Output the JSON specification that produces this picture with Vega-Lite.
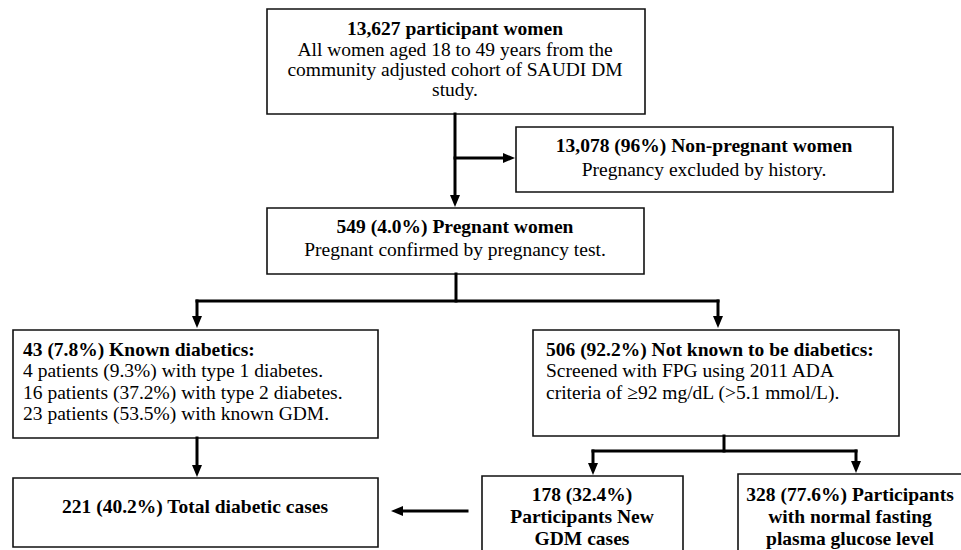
{
  "$schema": "https://vega.github.io/schema/vega-lite/v6.json",
  "width": 961,
  "height": 550,
  "padding": 0,
  "autosize": {"type": "none"},
  "background": "white",
  "config": {"view": {"stroke": null}},
  "datasets": {
    "boxes": [
      {"box": "participants", "x1": 267, "x2": 645, "y1": 9, "y2": 114},
      {"box": "non-pregnant", "x1": 516, "x2": 893, "y1": 127, "y2": 192},
      {"box": "pregnant", "x1": 267, "x2": 644, "y1": 208, "y2": 274},
      {"box": "known", "x1": 13, "x2": 378, "y1": 330, "y2": 438},
      {"box": "not known", "x1": 533, "x2": 899, "y1": 330, "y2": 436},
      {"box": "total", "x1": 13, "x2": 378, "y1": 478, "y2": 547},
      {"box": "new GDM", "x1": 482, "x2": 683, "y1": 476, "y2": 565},
      {"box": "normal", "x1": 738, "x2": 980, "y1": 474, "y2": 565}
    ],
    "links": [
      {"x1": 455, "y1": 114, "x2": 455, "y2": 198},
      {"x1": 455, "y1": 158, "x2": 506, "y2": 158},
      {"x1": 456, "y1": 274, "x2": 456, "y2": 301},
      {"x1": 197, "y1": 301, "x2": 718, "y2": 301},
      {"x1": 197, "y1": 301, "x2": 197, "y2": 318},
      {"x1": 718, "y1": 301, "x2": 718, "y2": 318},
      {"x1": 197, "y1": 438, "x2": 197, "y2": 468},
      {"x1": 724, "y1": 436, "x2": 724, "y2": 451},
      {"x1": 593, "y1": 451, "x2": 856, "y2": 451},
      {"x1": 593, "y1": 451, "x2": 593, "y2": 466},
      {"x1": 856, "y1": 451, "x2": 856, "y2": 464},
      {"x1": 467, "y1": 511, "x2": 400, "y2": 511}
    ],
    "heads": [
      {"x": 455, "y": 207, "dir": "down"},
      {"x": 515, "y": 158, "dir": "right"},
      {"x": 197, "y": 328, "dir": "down"},
      {"x": 718, "y": 328, "dir": "down"},
      {"x": 197, "y": 477, "dir": "down"},
      {"x": 593, "y": 475, "dir": "down"},
      {"x": 856, "y": 473, "dir": "down"},
      {"x": 391, "y": 511, "dir": "left"}
    ],
    "boldCenter": [
      {"x": 455, "y": 29, "t": "13,627 participant women"},
      {"x": 704, "y": 146, "t": "13,078 (96%) Non-pregnant women"},
      {"x": 455, "y": 227, "t": "549 (4.0%) Pregnant women"},
      {"x": 195, "y": 507, "t": "221 (40.2%) Total diabetic cases"},
      {"x": 582, "y": 495, "t": "178 (32.4%)"},
      {"x": 582, "y": 517, "t": "Participants  New"},
      {"x": 582, "y": 539, "t": "GDM cases"},
      {"x": 850, "y": 495, "t": "328 (77.6%) Participants"},
      {"x": 850, "y": 517, "t": "with normal fasting"},
      {"x": 850, "y": 539, "t": "plasma glucose level"}
    ],
    "plainCenter": [
      {"x": 455, "y": 49.5, "t": "All women aged 18 to 49 years from the"},
      {"x": 455, "y": 70, "t": "community adjusted cohort of SAUDI DM"},
      {"x": 455, "y": 90, "t": "study."},
      {"x": 704, "y": 170, "t": "Pregnancy excluded by history."},
      {"x": 455, "y": 250, "t": "Pregnant confirmed by pregnancy test."}
    ],
    "boldLeft": [
      {"x": 23, "y": 350, "t": "43 (7.8%) Known diabetics:"},
      {"x": 546, "y": 350, "t": "506 (92.2%) Not known to be diabetics:"}
    ],
    "plainLeft": [
      {"x": 23, "y": 371, "t": "4 patients (9.3%) with type 1 diabetes."},
      {"x": 23, "y": 392.5, "t": "16 patients (37.2%) with type 2 diabetes."},
      {"x": 23, "y": 413.5, "t": "23 patients (53.5%) with known GDM."},
      {"x": 546, "y": 371, "t": "Screened with FPG using 2011 ADA"},
      {"x": 546, "y": 392.5, "t": "criteria of ≥92 mg/dL (>5.1 mmol/L)."}
    ]
  },
  "layer": [
    {
      "data": {"name": "boxes"},
      "mark": {"type": "rect", "fill": "white", "stroke": "#111", "strokeWidth": 1.6},
      "encoding": {
        "x": {"field": "x1", "type": "quantitative", "scale": {"domain": [0, 961], "nice": false, "zero": false}, "axis": null},
        "x2": {"field": "x2"},
        "y": {"field": "y1", "type": "quantitative", "scale": {"domain": [0, 550], "nice": false, "zero": false, "reverse": true}, "axis": null},
        "y2": {"field": "y2"}
      }
    },
    {
      "data": {"name": "links"},
      "mark": {"type": "rule", "color": "black", "strokeWidth": 3, "strokeCap": "square"},
      "encoding": {
        "x": {"field": "x1", "type": "quantitative"},
        "x2": {"field": "x2"},
        "y": {"field": "y1", "type": "quantitative"},
        "y2": {"field": "y2"}
      }
    },
    {
      "data": {"name": "heads"},
      "mark": {"type": "point", "filled": true, "color": "black", "opacity": 1, "size": 100, "strokeWidth": 0},
      "encoding": {
        "x": {"field": "x", "type": "quantitative"},
        "y": {"field": "y", "type": "quantitative"},
        "shape": {
          "field": "dir",
          "type": "nominal",
          "scale": {"domain": ["down", "right", "left"], "range": ["M-1,-2.4L1,-2.4L0,0Z", "M-2.4,-1L-2.4,1L0,0Z", "M2.4,-1L2.4,1L0,0Z"]},
          "legend": null
        }
      }
    },
    {
      "data": {"name": "boldCenter"},
      "mark": {"type": "text", "font": "Liberation Serif", "fontSize": 19.5, "fontWeight": "bold", "align": "center", "baseline": "middle", "color": "black"},
      "encoding": {
        "x": {"field": "x", "type": "quantitative"},
        "y": {"field": "y", "type": "quantitative"},
        "text": {"field": "t"}
      }
    },
    {
      "data": {"name": "plainCenter"},
      "mark": {"type": "text", "font": "Liberation Serif", "fontSize": 19.5, "align": "center", "baseline": "middle", "color": "black"},
      "encoding": {
        "x": {"field": "x", "type": "quantitative"},
        "y": {"field": "y", "type": "quantitative"},
        "text": {"field": "t"}
      }
    },
    {
      "data": {"name": "boldLeft"},
      "mark": {"type": "text", "font": "Liberation Serif", "fontSize": 19.5, "fontWeight": "bold", "align": "left", "baseline": "middle", "color": "black"},
      "encoding": {
        "x": {"field": "x", "type": "quantitative"},
        "y": {"field": "y", "type": "quantitative"},
        "text": {"field": "t"}
      }
    },
    {
      "data": {"name": "plainLeft"},
      "mark": {"type": "text", "font": "Liberation Serif", "fontSize": 19.5, "align": "left", "baseline": "middle", "color": "black"},
      "encoding": {
        "x": {"field": "x", "type": "quantitative"},
        "y": {"field": "y", "type": "quantitative"},
        "text": {"field": "t"}
      }
    }
  ]
}
